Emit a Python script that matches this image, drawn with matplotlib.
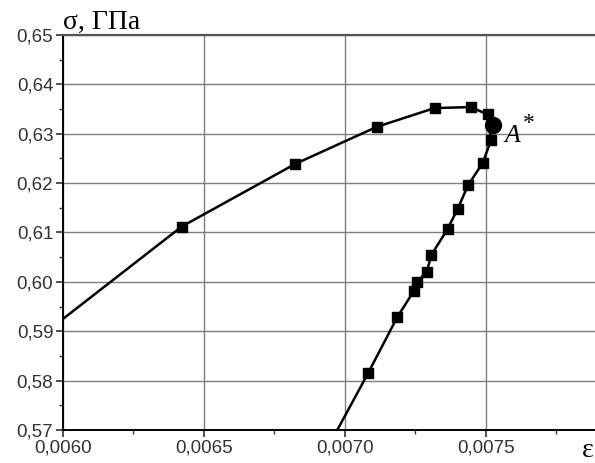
import matplotlib
matplotlib.use("Agg")
import matplotlib.pyplot as plt
from matplotlib.ticker import MultipleLocator, FuncFormatter

# curve (strain, stress in GPa)
eps = [0.00600, 0.006421, 0.006824, 0.007113, 0.007318, 0.007447, 0.007506,
       0.007518, 0.007489, 0.007437, 0.007400, 0.007364, 0.007307, 0.007290,
       0.007254, 0.007245, 0.007186, 0.007083, 0.006973]
sigma = [0.5925, 0.6112, 0.6239, 0.6314, 0.6352, 0.6354, 0.6339,
         0.6287, 0.6241, 0.6196, 0.6148, 0.6107, 0.6055, 0.6020,
         0.5999, 0.5982, 0.5929, 0.5816, 0.5700]
# point A*
a_eps = 0.007525
a_sigma = 0.6317

fig = plt.figure(figsize=(5.95, 4.63), dpi=100)
ax = fig.add_axes([0.1059, 0.0713, 0.8941, 0.8531])

ax.plot(eps, sigma, color='black', lw=1.8, marker='s', ms=6.5,
        markevery=list(range(1, len(eps) - 1)), zorder=3)
ax.plot([a_eps], [a_sigma], 'o', color='black', ms=11.5, zorder=4)
# label A* next to the point
ax.text(a_eps + 0.000042, a_sigma - 0.0033, 'A', fontsize=18.5,
        family='Liberation Serif', style='italic', va='baseline', ha='left')
ax.text(a_eps + 0.000105, a_sigma + 0.0026, '*', fontsize=17,
        family='Liberation Serif', va='top', ha='left')

ax.set_xlim(0.0060, 0.007887)
ax.set_ylim(0.57, 0.65)
ax.xaxis.set_major_locator(MultipleLocator(0.0005))
ax.xaxis.set_minor_locator(MultipleLocator(0.00025))
ax.yaxis.set_major_locator(MultipleLocator(0.01))
ax.yaxis.set_minor_locator(MultipleLocator(0.005))
ax.xaxis.set_major_formatter(FuncFormatter(lambda v, p: f'{v:.4f}'.replace('.', ',')))
ax.yaxis.set_major_formatter(FuncFormatter(lambda v, p: f'{v:.2f}'.replace('.', ',')))

ax.grid(True, which='major', color='#7f7f7f', lw=1.0)
ax.tick_params(which='both', direction='out', color='#333333', labelsize=13.5)
ax.tick_params(which='major', length=5, width=1.2, pad=2)
ax.tick_params(which='minor', length=3, width=1.0)
for lab in ax.get_xticklabels() + ax.get_yticklabels():
    lab.set_family('Liberation Sans')
    lab.set_color('#333333')

ax.spines['right'].set_visible(False)
ax.spines['top'].set_color('#555555')
ax.spines['top'].set_linewidth(1.6)
ax.spines['left'].set_linewidth(1.4)
ax.spines['bottom'].set_linewidth(1.4)

fig.text(0.106, 0.937, 'σ, ГПа', fontsize=20, family='Liberation Serif',
         ha='left', va='baseline')
fig.text(0.988, 0.027, 'ε', fontsize=20, family='Liberation Serif',
         ha='center', va='center')

fig.savefig('out.png', dpi=100)
